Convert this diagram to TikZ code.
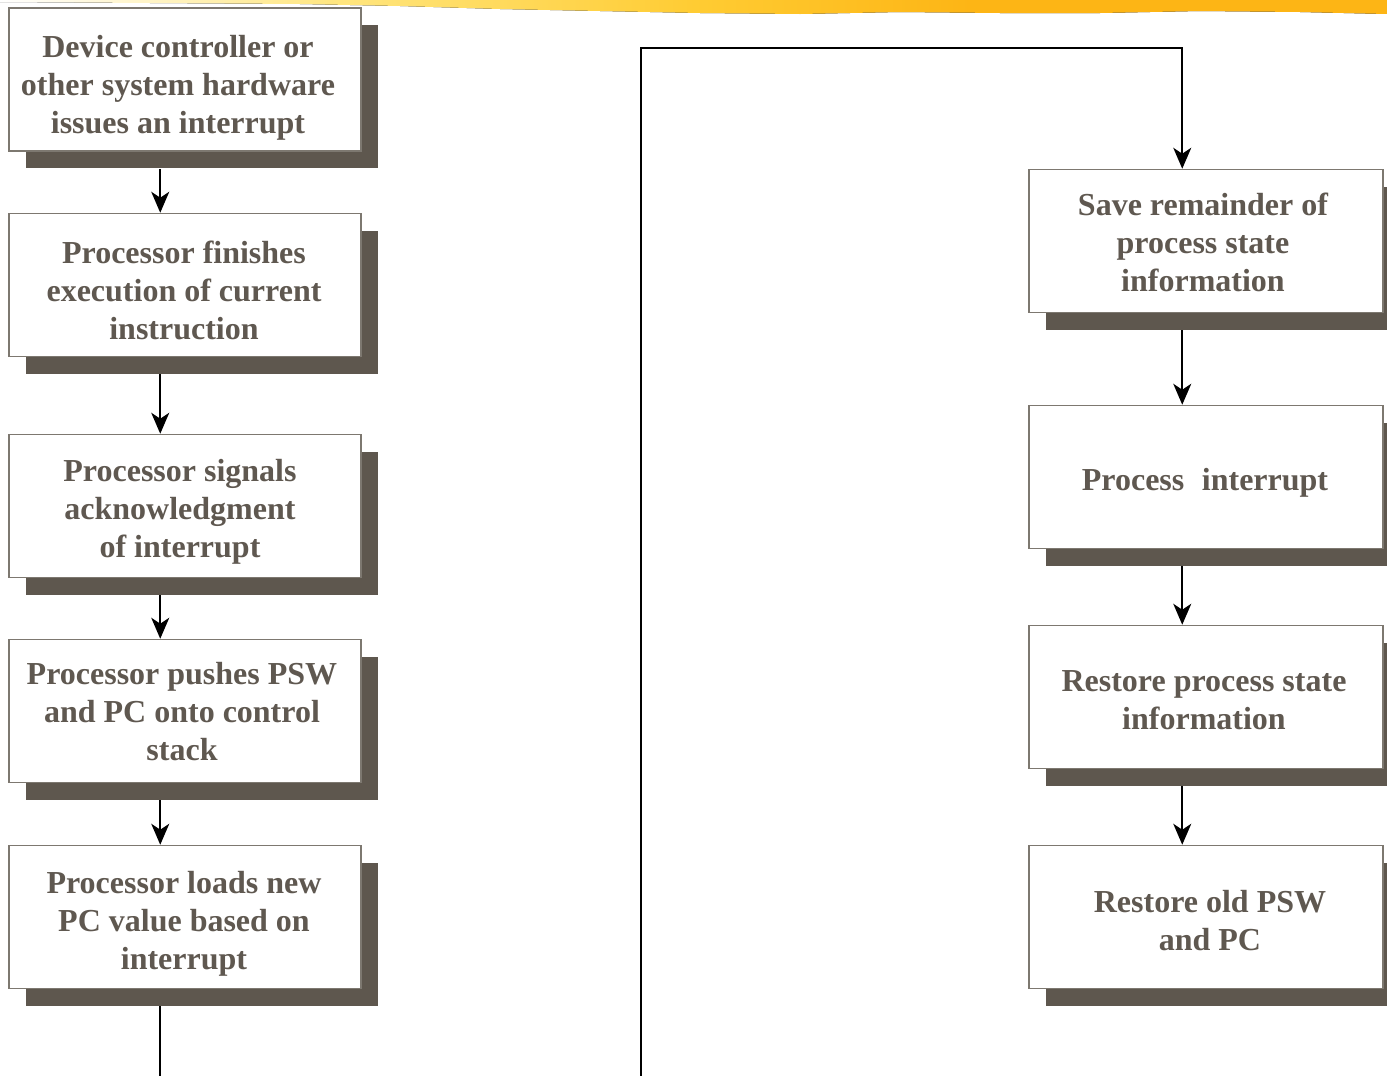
\documentclass[tikz,border=0pt]{standalone}
\usepackage{fontspec}
\setmainfont{Liberation Serif}
\usetikzlibrary{arrows.meta,shadows}
\definecolor{inkc}{HTML}{5F5850}
\definecolor{shadowc}{HTML}{5E574E}
\definecolor{framec}{HTML}{7D7870}
\definecolor{bandl}{HTML}{FFE680}
\definecolor{bandm}{HTML}{FFCC33}
\definecolor{bandr}{HTML}{FDB515}
% brush stroke along the top edge: pale on the left, orange on the right
\pgfdeclarehorizontalshading{bandshade}{100bp}{color(0bp)=(white); color(25bp)=(white);
  color(37bp)=(bandl); color(50bp)=(bandm); color(60bp)=(bandr); color(100bp)=(bandr)}
\begin{document}
\begin{tikzpicture}[x=1pt,y=-1pt,
  stepbox/.style={draw=framec, line width=1.5pt, fill=white,
    minimum height=143pt, inner sep=0pt,
    drop shadow={shadow xshift=17pt, shadow yshift=-17pt, fill=shadowc, opacity=1}},
  leftbox/.style={stepbox, minimum width=352pt},
  rightbox/.style={stepbox, minimum width=354pt},
  steptext/.style={inner sep=0pt, align=center, text=inkc,
    font=\fontsize{32}{38}\selectfont\bfseries},
  flow/.style={draw=black, line width=1.8pt},
  arr/.style={flow, -{Stealth[length=21pt,width=18pt,inset=6pt]}}]
\clip (0,0) rectangle (1387,1076);
\fill[white] (0,0) rectangle (1387,1076);

% top brush stroke
\fill[shading=bandshade]
  (0,0) -- (1387,0) -- (1387,14) -- (1300,12) -- (1200,11) -- (1100,13)
  -- (1000,13) -- (900,12) -- (800,14) -- (700,13) -- (600,11)
  -- (500,9) -- (400,6) -- (300,4) -- (0,2) -- cycle;

% left column
\node[leftbox] (b1) at (185,79.5) {};
\node[leftbox] (b2) at (185,285) {};
\node[leftbox] (b3) at (185,506) {};
\node[leftbox] (b4) at (185,711) {};
\node[leftbox] (b5) at (185,917) {};
\node[steptext] (t1) at ([xshift=-7pt,yshift=-8pt]b1.center) {Device controller or\\other system hardware\\issues an interrupt};
\node[steptext] (t2) at ([xshift=-1pt,yshift=-5pt]b2.center) {Processor finishes\\execution of current\\instruction};
\node[steptext] (t3) at ([xshift=-5pt,yshift=-6pt]b3.center) {Processor signals\\acknowledgment\\of interrupt};
\node[steptext] (t4) at ([xshift=-3pt,yshift=-1pt]b4.center) {Processor pushes PSW\\and PC onto control\\stack};
\node[steptext] (t5) at ([xshift=-1pt,yshift=-7pt]b5.center) {Processor loads new\\PC value based on\\interrupt};

% right column
\node[rightbox] (r1) at (1206,241) {};
\node[rightbox] (r2) at (1206,477) {};
\node[rightbox] (r3) at (1206,697) {};
\node[rightbox] (r4) at (1206,917) {};
\node[steptext] (u1) at ([xshift=-3pt,yshift=-1pt]r1.center) {Save remainder of\\process state\\information};
\node[steptext] (u2) at ([xshift=-1pt,yshift=-6pt]r2.center) {Process\hspace{0.3em} interrupt};
\node[steptext] (u3) at ([xshift=-2pt,yshift=-3pt]r3.center) {Restore process state\\information};
\node[steptext] (u4) at ([xshift=4pt,yshift=-4pt]r4.center) {Restore old PSW\\and PC};

% connectors, left column
\draw[arr] ([xshift=152pt,yshift=-17pt]b1.south west) -- ([xshift=152pt]b2.north west);
\draw[arr] ([xshift=152pt,yshift=-17pt]b2.south west) -- ([xshift=152pt]b3.north west);
\draw[arr] ([xshift=152pt,yshift=-17pt]b3.south west) -- ([xshift=152pt]b4.north west);
\draw[arr] ([xshift=152pt,yshift=-17pt]b4.south west) -- ([xshift=152pt]b5.north west);
\coordinate (exitl) at ([xshift=152pt,yshift=-17pt]b5.south west);
\coordinate (bottom) at (0,1076);
\draw[flow] (exitl) -- (exitl |- bottom);

% continuation into the right column
\coordinate (inr) at (641,1076);
\coordinate (topr) at (641,48);
\draw[arr] (inr) -- (topr) -| ([xshift=154pt]r1.north west);

% connectors, right column
\draw[arr] ([xshift=154pt,yshift=-17pt]r1.south west) -- ([xshift=154pt]r2.north west);
\draw[arr] ([xshift=154pt,yshift=-17pt]r2.south west) -- ([xshift=154pt]r3.north west);
\draw[arr] ([xshift=154pt,yshift=-17pt]r3.south west) -- ([xshift=154pt]r4.north west);
\end{tikzpicture}
\end{document}
